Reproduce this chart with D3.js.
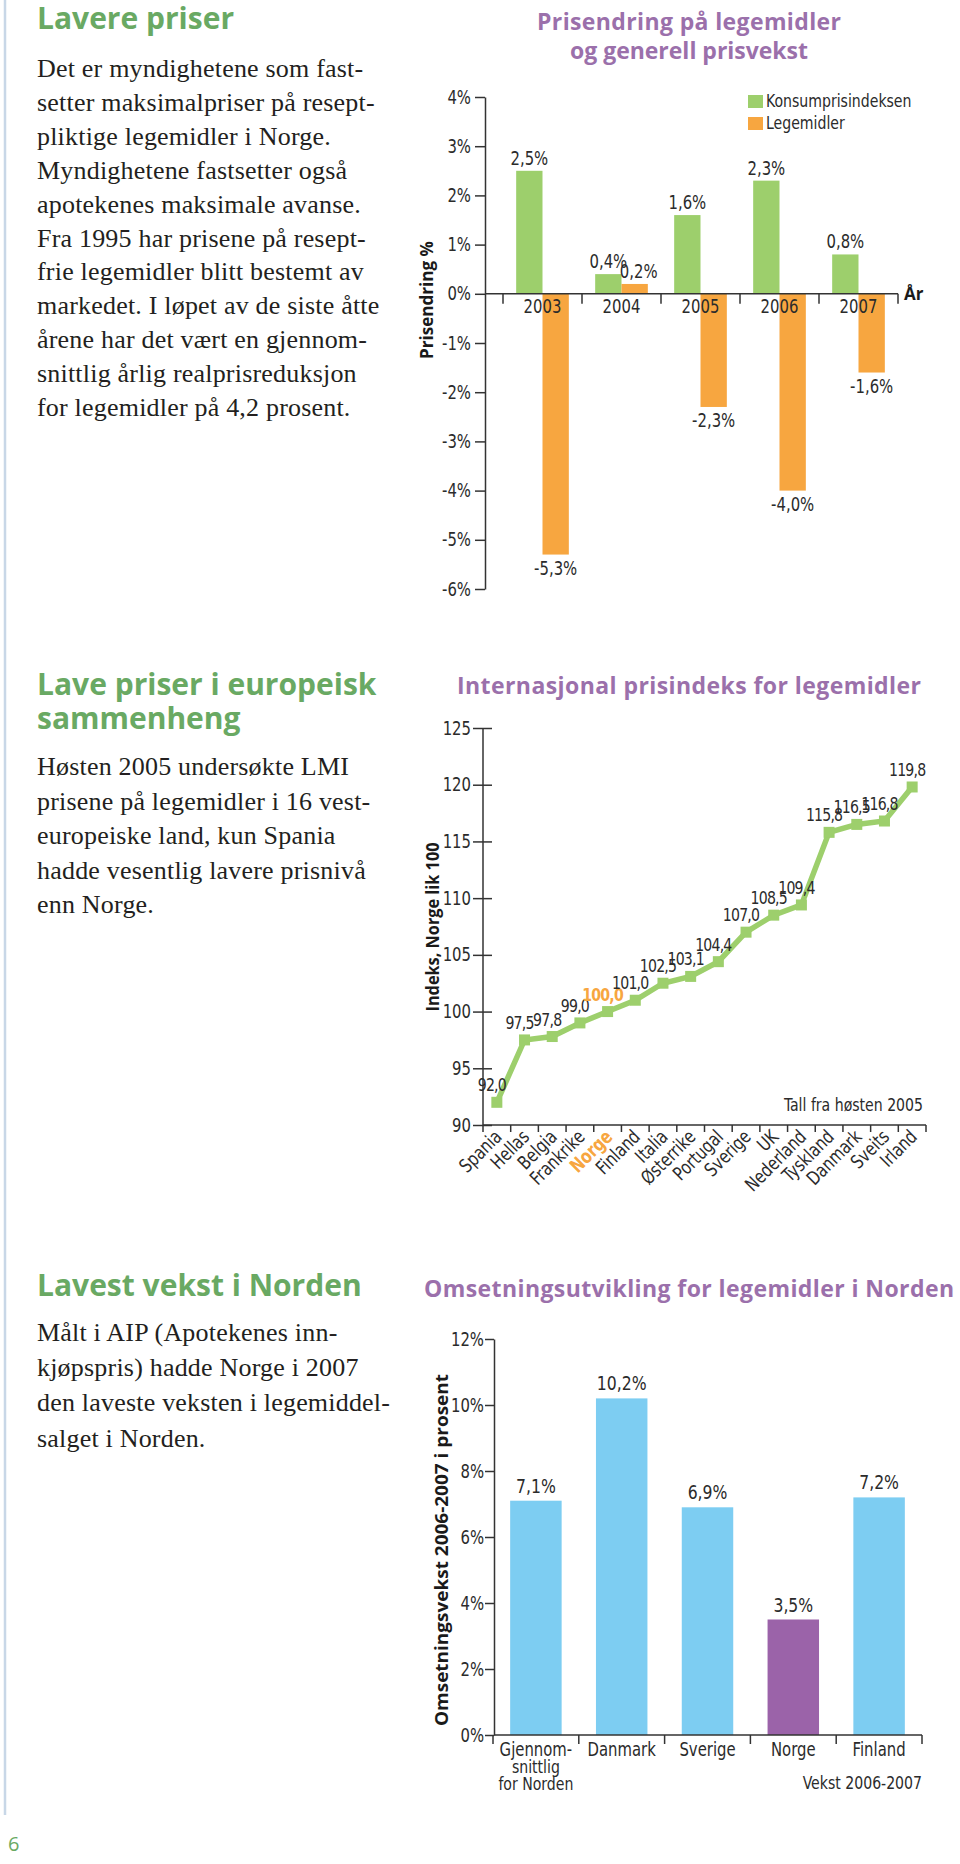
<!DOCTYPE html>
<html><head><meta charset="utf-8">
<script src="https://cdn.jsdelivr.net/npm/d3@7"></script>
<style>
html,body{margin:0;padding:0;background:#fff;}
svg{display:block;}
.num{font-family:"Liberation Sans Narrow","DejaVu Sans Condensed","Roboto",sans-serif;fill:#2b2b2b;}
.body{font-family:"Liberation Serif","DejaVu Serif",serif;fill:#231f20;font-size:26px;letter-spacing:0.2px;}
.head{font-family:"Open Sans","DejaVu Sans",sans-serif;font-weight:700;fill:#69a963;font-size:30px;}
.title{font-family:"Open Sans","DejaVu Sans",sans-serif;font-weight:700;fill:#9b70ab;font-size:23px;}
.ytitle{font-family:"Open Sans","DejaVu Sans",sans-serif;font-weight:700;fill:#1a1a1a;font-size:17px;}
</style></head><body>
<svg id="c" width="960" height="1864"></svg>
<script>
// ---------- data ----------
const years = ["2003","2004","2005","2006","2007"];
const kpiValues = [2.5, 0.4, 1.6, 2.3, 0.8];
const medValues = [-5.3, 0.2, -2.3, -4.0, -1.6];
const pctTicks1 = [4,3,2,1,0,-1,-2,-3,-4,-5,-6];
const seriesNames1 = ["Konsumprisindeksen","Legemidler"];

const countries = ["Spania","Hellas","Belgia","Frankrike","Norge","Finland","Italia","Østerrike","Portugal","Sverige","UK","Nederland","Tyskland","Danmark","Sveits","Irland"];
const indexValues = [92.0,97.5,97.8,99.0,100.0,101.0,102.5,103.1,104.4,107.0,108.5,109.4,115.8,116.5,116.8,119.8];
const indexTicks = [125,120,115,110,105,100,95,90];

const nordic = ["Gjennomsnittlig for Norden","Danmark","Sverige","Norge","Finland"];
const nordicLabelLines = [["Gjennom-","snittlig","for Norden"],["Danmark"],["Sverige"],["Norge"],["Finland"]];
const growthValues = [7.1, 10.2, 6.9, 3.5, 7.2];
const growthTicks = [12,10,8,6,4,2,0];

const para1 = ["Det er myndighetene som fast-","setter maksimalpriser på resept-","pliktige legemidler i Norge.","Myndighetene fastsetter også","apotekenes maksimale avanse.","Fra 1995 har prisene på resept-","frie legemidler blitt bestemt av","markedet. I løpet av de siste åtte","årene har det vært en gjennom-","snittlig årlig realprisreduksjon","for legemidler på 4,2 prosent."];
const para2 = ["Høsten 2005 undersøkte LMI","prisene på legemidler i 16 vest-","europeiske land, kun Spania","hadde vesentlig lavere prisnivå","enn Norge."];
const para3 = ["Målt i AIP (Apotekenes inn-","kjøpspris) hadde Norge i 2007","den laveste veksten i legemiddel-","salget i Norden."];

// ---------- helpers ----------
const GREEN="#9dcf6c", ORANGE="#f7a640", BLUE="#7dcdf2", PURPLE="#9b63a9", AX="#333";
const SX = 0.87; // horizontal condensing of the light numeric font
const comma = v => d3.format(".1f")(v).replace(".",",").replace("−","-");
const svg = d3.select("#c");
svg.append("rect").attr("width",960).attr("height",1864).attr("fill","#fff");

function ctext(parent, x, y, txt, size, anchor){
  return parent.append("text").attr("class","num").attr("font-size",size)
    .attr("text-anchor",anchor||"start")
    .attr("transform",`translate(${x},${y}) scale(${SX},1)`).text(txt);
}

svg.append("line").attr("x1",5).attr("x2",5).attr("y1",0).attr("y2",1815)
  .attr("stroke","#c8d7e7").attr("stroke-width",2.5);
svg.append("text").attr("x",8).attr("y",1851).attr("fill","#69a963")
  .attr("font-family","Open Sans, sans-serif").attr("font-size",20).text("6");

function para(lines, x, y0, step){
  svg.append("g").selectAll("text").data(lines).join("text")
    .attr("class","body").attr("x",x).attr("y",(d,i)=>y0+i*step).text(d=>d);
}
function head(lines, x, y0, step){
  svg.append("g").selectAll("text").data(lines).join("text")
    .attr("class","head").attr("x",x).attr("y",(d,i)=>y0+i*step).text(d=>d);
}
function title(lines, cx, y0, step, widths){
  svg.append("g").selectAll("text").data(lines).join("text")
    .attr("class","title").attr("x",cx).attr("y",(d,i)=>y0+i*step)
    .attr("text-anchor","middle").attr("textLength",(d,i)=>widths[i]).attr("lengthAdjust","spacing")
    .text(d=>d);
}
function ytitle(txt, x, y, len){
  svg.append("text").attr("class","ytitle").attr("transform",`translate(${x},${y}) rotate(-90)`)
    .attr("text-anchor","middle").attr("textLength",len).attr("lengthAdjust","spacingAndGlyphs").text(txt);
}
function styleAxis(g, fs, off){
  g.select(".domain").attr("stroke",AX).attr("stroke-width",1.5);
  g.selectAll(".tick line").attr("stroke",AX).attr("stroke-width",1.5);
  g.selectAll(".tick text").attr("class","num").attr("font-size",fs).attr("fill","#2b2b2b")
    .attr("x",-off/SX).attr("transform",`scale(${SX},1)`);
}

// ---------- left text ----------
head(["Lavere priser"], 37, 29, 0);
para(para1, 37, 77, 33.9);
head(["Lave priser i europeisk","sammenheng"], 37, 695, 34);
para(para2, 37, 775, 34.5);
head(["Lavest vekst i Norden"], 37, 1296, 0);
para(para3, 37, 1341, 35.2);

// ---------- chart 1 ----------
title(["Prisendring på legemidler","og generell prisvekst"], 689, 30, 29, [304, 238]);
const y1 = d3.scaleLinear().domain([-6,4]).range([589,97]);
const x1 = d3.scaleBand().domain(years).range([503,898]);
const x1s = d3.scaleBand().domain(["kpi","med"]).range([0,x1.bandwidth()]).paddingOuter(0.5);
const ax1 = svg.append("g").attr("transform","translate(485,0)")
  .call(d3.axisLeft(y1).tickValues(pctTicks1).tickSize(10).tickSizeOuter(0).tickFormat(d=>d+"%"));
styleAxis(ax1, 19, 14);
ytitle("Prisendring %", 433, 300, 118);

const rows1 = years.map((yr,i)=>({yr, kpi:kpiValues[i], med:medValues[i]}));
const g1 = svg.append("g");
rows1.forEach(r=>{
  [["kpi",GREEN],["med",ORANGE]].forEach(([k,col])=>{
    const v=r[k];
    g1.append("rect").attr("x",x1(r.yr)+x1s(k)).attr("width",x1s.bandwidth())
      .attr("y",y1(Math.max(0,v))).attr("height",Math.abs(y1(v)-y1(0))).attr("fill",col);
  });
});
svg.append("line").attr("x1",485).attr("x2",x1.range()[1]).attr("y1",y1(0)).attr("y2",y1(0)).attr("stroke",AX).attr("stroke-width",1.5);
svg.append("g").selectAll("line").data(d3.range(years.length+1)).join("line")
  .attr("x1",i=>x1.range()[0]+i*x1.step()).attr("x2",i=>x1.range()[0]+i*x1.step())
  .attr("y1",y1(0)).attr("y2",y1(0)+10).attr("stroke",AX).attr("stroke-width",1.5);
years.forEach(yr=>ctext(svg, x1(yr)+x1.bandwidth()/2, y1(0)+19, yr, 19, "middle"));
svg.append("text").attr("x",x1.range()[1]+6).attr("y",y1(0)+6).attr("class","ytitle").attr("font-size",19).text("År");
rows1.forEach(r=>{
  ["kpi","med"].forEach(k=>{
    const v=r[k];
    ctext(svg, x1(r.yr)+x1s(k)+x1s.bandwidth()/2 + (k==="med"&&v>0?4:0),
      v>=0 ? y1(v)-6 : y1(v)+20, comma(v)+"%", 19, "middle");
  });
});
const lg = svg.append("g").attr("transform","translate(748,95)");
seriesNames1.forEach((n,i)=>{
  lg.append("rect").attr("x",0).attr("y",i*22).attr("width",15).attr("height",13).attr("fill",i?ORANGE:GREEN);
  ctext(lg, 18, i*22+12, n, 18);
});

// ---------- chart 2 ----------
title(["Internasjonal prisindeks for legemidler"], 689, 694, 0, [464]);
const y2 = d3.scaleLinear().domain([90,125]).range([1125,728]);
const x2 = d3.scaleBand().domain(countries).range([483,926]);
const ax2 = svg.append("g").attr("transform","translate(483,0)")
  .call(d3.axisLeft(y2).tickValues(indexTicks).tickSize(10).tickSizeOuter(0).tickFormat(d=>d));
styleAxis(ax2, 19, 12);
ax2.selectAll(".tick line").attr("x1",9);
ax2.select(".domain").attr("d",`M0,${y2(125)}V${y2(90)+7}`);
ytitle("Indeks, Norge lik 100", 439, 927, 169);
svg.append("line").attr("x1",483).attr("x2",926).attr("y1",y2(90)).attr("y2",y2(90)).attr("stroke",AX).attr("stroke-width",1.5);
svg.append("g").selectAll("line").data(d3.range(1,countries.length+1)).join("line")
  .attr("x1",i=>x2.range()[0]+i*x2.step()).attr("x2",i=>x2.range()[0]+i*x2.step())
  .attr("y1",y2(90)).attr("y2",y2(90)+7).attr("stroke",AX).attr("stroke-width",1.5);
const rows2 = countries.map((c,i)=>({c, v:indexValues[i]}));
const cx2 = d=>x2(d.c)+x2.bandwidth()/2;
svg.append("path").datum(rows2).attr("fill","none").attr("stroke",GREEN).attr("stroke-width",5.5)
  .attr("d", d3.line().x(cx2).y(d=>y2(d.v)));
svg.append("g").selectAll("rect").data(rows2).join("rect")
  .attr("x",d=>cx2(d)-5.5).attr("y",d=>y2(d.v)-5.5).attr("width",11).attr("height",11).attr("fill",GREEN);
svg.append("g").selectAll("text").data(rows2).join("text").attr("class","num")
  .attr("font-size",18).attr("letter-spacing",-0.9)
  .attr("font-weight",d=>d.c==="Norge"?700:400)
  .style("fill",d=>d.c==="Norge"?ORANGE:"#2b2b2b")
  .attr("text-anchor","middle")
  .attr("transform",d=>`translate(${cx2(d)-5},${y2(d.v)-11}) scale(${SX},1)`).text(d=>comma(d.v));
svg.append("g").selectAll("text").data(countries).join("text").attr("class","num")
  .attr("font-size",19).attr("text-anchor","end")
  .attr("font-weight",d=>d==="Norge"?700:400)
  .style("fill",d=>d==="Norge"?ORANGE:"#2b2b2b")
  .attr("transform",d=>`translate(${x2(d)+x2.bandwidth()/2+6},${y2(90)+13}) rotate(-45) scale(${SX},1)`).text(d=>d);
ctext(svg, 923, 1111, "Tall fra høsten 2005", 18, "end");

// ---------- chart 3 ----------
title(["Omsetningsutvikling for legemidler i Norden"], 689, 1297, 0, [530]);
const y3 = d3.scaleLinear().domain([0,12]).range([1735,1339]);
const x3 = d3.scaleBand().domain(nordic).range([493,922]).paddingInner(0.4).paddingOuter(0.2);
const ax3 = svg.append("g").attr("transform","translate(494,0)")
  .call(d3.axisLeft(y3).tickValues(growthTicks).tickSize(9).tickSizeOuter(0).tickFormat(d=>d+"%"));
styleAxis(ax3, 19, 10);
ytitle("Omsetningsvekst 2006-2007 i prosent", 448, 1550, 352);
const rows3 = nordic.map((c,i)=>({c, v:growthValues[i], lines:nordicLabelLines[i]}));
svg.append("g").selectAll("rect").data(rows3).join("rect")
  .attr("x",d=>x3(d.c)).attr("width",x3.bandwidth()).attr("y",d=>y3(d.v)).attr("height",d=>y3(0)-y3(d.v))
  .attr("fill",d=>d.c==="Norge"?PURPLE:BLUE);
svg.append("line").attr("x1",494).attr("x2",x3.range()[1]).attr("y1",y3(0)).attr("y2",y3(0)).attr("stroke",AX).attr("stroke-width",1.5);
const bnd3 = nordic.map(c=>x3(c)-x3.step()*x3.paddingInner()/2).concat([x3.range()[1]]);
svg.append("g").selectAll("line").data(bnd3).join("line")
  .attr("x1",d=>d).attr("x2",d=>d).attr("y1",y3(0)).attr("y2",y3(0)+9).attr("stroke",AX).attr("stroke-width",1.5);
rows3.forEach(r=>{
  ctext(svg, x3(r.c)+x3.bandwidth()/2, y3(r.v)-8, comma(r.v)+"%", 20, "middle");
  r.lines.forEach((ln,j)=>ctext(svg, x3(r.c)+x3.bandwidth()/2, y3(0)+21+j*17, ln, j?18:19, "middle"));
});
ctext(svg, 922, 1789, "Vekst 2006-2007", 18, "end");
</script>
</body></html>
